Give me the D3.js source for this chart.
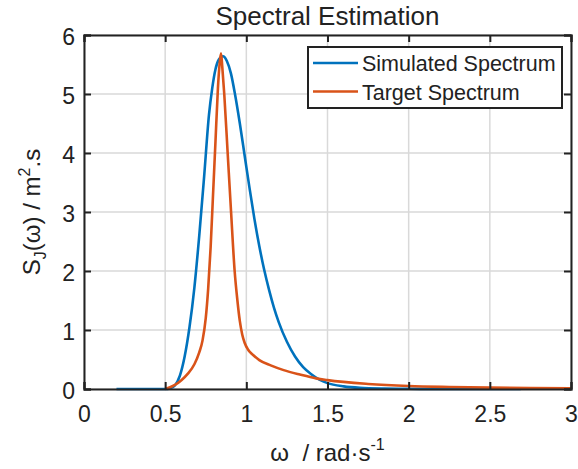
<!DOCTYPE html>
<html>
<head>
<meta charset="utf-8">
<script src="https://cdn.jsdelivr.net/npm/d3@7"></script>
<style>
  body { margin: 0; background: #fff; }
  text { font-family: "Liberation Sans", Arial, sans-serif; fill: #222; }
</style>
</head>
<body>
<svg id="chart" width="578" height="469"></svg>
<script>

// simulated spectrum (blue)
const simW = [0.2, 0.5, 0.53, 0.56, 0.59, 0.62, 0.65, 0.68, 0.71, 0.74, 0.77, 0.79, 0.81, 0.83, 0.856, 0.88, 0.905, 0.93, 0.96, 0.99, 1.02, 1.05, 1.08, 1.11, 1.14, 1.17, 1.2, 1.25, 1.3, 1.35, 1.4, 1.45, 1.5, 1.6, 1.7, 1.85, 2.0, 2.3, 2.69];
const simS = [0, 0, 0.01, 0.06, 0.22, 0.55, 1.05, 1.72, 2.6, 3.6, 4.65, 5.1, 5.42, 5.58, 5.64, 5.56, 5.35, 5.0, 4.5, 3.95, 3.4, 2.88, 2.42, 2.02, 1.68, 1.38, 1.13, 0.8, 0.55, 0.37, 0.25, 0.16, 0.1, 0.045, 0.02, 0.007, 0.003, 0.0005, 0];

// target spectrum (red)
const tgtW = [0.5, 0.53, 0.56, 0.6, 0.64, 0.68, 0.71, 0.73, 0.75, 0.765, 0.78, 0.795, 0.81, 0.825, 0.835, 0.844, 0.852, 0.864, 0.885, 0.906, 0.928, 0.945, 0.96, 0.975, 0.99, 1.01, 1.04, 1.08, 1.15, 1.23, 1.33, 1.43, 1.5, 1.75, 2.0, 2.25, 2.5, 2.75, 3.0];
const tgtS = [0, 0.03, 0.07, 0.15, 0.26, 0.42, 0.62, 0.82, 1.2, 1.7, 2.4, 3.3, 4.2, 5.1, 5.5, 5.69, 5.45, 5.0, 4.0, 3.0, 2.0, 1.5, 1.15, 0.92, 0.78, 0.67, 0.58, 0.49, 0.4, 0.32, 0.245, 0.18, 0.15, 0.085, 0.05, 0.034, 0.024, 0.017, 0.012];

const xTicks = [0, 0.5, 1, 1.5, 2, 2.5, 3];
const yTicks = [0, 1, 2, 3, 4, 5, 6];
const seriesNames = ["Simulated Spectrum", "Target Spectrum"];
const colors = ["#0072BD", "#D95319"];

const svg = d3.select("#chart");
const pl = 84, pr = 571, pt = 35, pb = 389;

const x = d3.scaleLinear().domain([0, 3]).range([pl, pr]);
const y = d3.scaleLinear().domain([0, 6]).range([pb, pt]);

// grid
const grid = svg.append("g");
grid.selectAll(".gx").data(xTicks).enter().append("line")
  .attr("x1", d => x(d)).attr("x2", d => x(d))
  .attr("y1", pt).attr("y2", pb)
  .attr("stroke", "#d9d9d9").attr("stroke-width", 1.5);
grid.selectAll(".gy").data(yTicks).enter().append("line")
  .attr("x1", pl).attr("x2", pr)
  .attr("y1", d => y(d)).attr("y2", d => y(d))
  .attr("stroke", "#d9d9d9").attr("stroke-width", 1.5);

// lines
const line = d3.line().curve(d3.curveMonotoneX)
  .x(d => x(d[0])).y(d => y(d[1]));

const sim = simW.map((w, i) => [w, simS[i]]);
const tgt = tgtW.map((w, i) => [w, tgtS[i]]);

svg.append("path").datum(sim).attr("d", line)
  .attr("fill", "none").attr("stroke", colors[0]).attr("stroke-width", 2.6);
svg.append("path").datum(tgt).attr("d", line)
  .attr("fill", "none").attr("stroke", colors[1]).attr("stroke-width", 2.6);

// axes (ticks inside, box)
const fmt = d3.format("~g");
const axB = d3.axisBottom(x).tickValues(xTicks).tickSize(-7).tickPadding(17).tickFormat(fmt);
const axT = d3.axisTop(x).tickValues(xTicks).tickSize(-7).tickFormat("");
const axL = d3.axisLeft(y).tickValues(yTicks).tickSize(-7).tickPadding(9).tickFormat(fmt);
const axR = d3.axisRight(y).tickValues(yTicks).tickSize(-7).tickFormat("");

function styleAxis(g) {
  g.select(".domain").attr("stroke", "#222").attr("stroke-width", 2);
  g.selectAll(".tick line").attr("stroke", "#222").attr("stroke-width", 2);
  g.selectAll(".tick text").style("font-size", "23px").attr("fill", "#222")
    .style("font-family", "Liberation Sans, Arial, sans-serif");
}

svg.append("g").attr("transform", `translate(0,${pb})`).call(axB).call(styleAxis);
svg.append("g").attr("transform", `translate(0,${pt})`).call(axT).call(styleAxis);
svg.append("g").attr("transform", `translate(${pl},0)`).call(axL).call(styleAxis)
  .selectAll(".tick text").attr("dy", "0.42em");
svg.append("g").attr("transform", `translate(${pr},0)`).call(axR).call(styleAxis);

// title
svg.append("text").attr("x", (pl + pr) / 2).attr("y", 25)
  .attr("text-anchor", "middle").style("font-size", "26px")
  .text("Spectral Estimation");

// x label
const xl = svg.append("text").attr("x", (pl + pr) / 2).attr("y", 461)
  .attr("text-anchor", "middle").style("font-size", "24px");
xl.append("tspan").text("ω\u00a0\u00a0/ rad·s");
xl.append("tspan").attr("dy", -11).style("font-size", "16px").text("-1");

// y label
const yl = svg.append("text")
  .attr("transform", `translate(40,${(pt + pb) / 2}) rotate(-90)`)
  .attr("text-anchor", "middle").style("font-size", "24px");
yl.append("tspan").text("S");
yl.append("tspan").attr("dy", 6).style("font-size", "16px").text("J");
yl.append("tspan").attr("dy", -6).text("(ω) / m");
yl.append("tspan").attr("dy", -10).style("font-size", "16px").text("2");
yl.append("tspan").attr("dy", 10).text(".s");

// legend
const lg = svg.append("g");
lg.append("rect").attr("x", 308).attr("y", 47).attr("width", 254).attr("height", 61)
  .attr("fill", "#fff").attr("stroke", "#222").attr("stroke-width", 2);
const rows = lg.selectAll(".row").data(seriesNames).enter().append("g")
  .attr("transform", (d, i) => `translate(0,${63 + i * 28.5})`);
rows.append("line").attr("x1", 313).attr("x2", 358).attr("y1", 0).attr("y2", 0)
  .attr("stroke", (d, i) => colors[i]).attr("stroke-width", 2.6);
rows.append("text").attr("x", 362).attr("y", 8).style("font-size", "21.5px").text(d => d);

</script>
</body>
</html>
